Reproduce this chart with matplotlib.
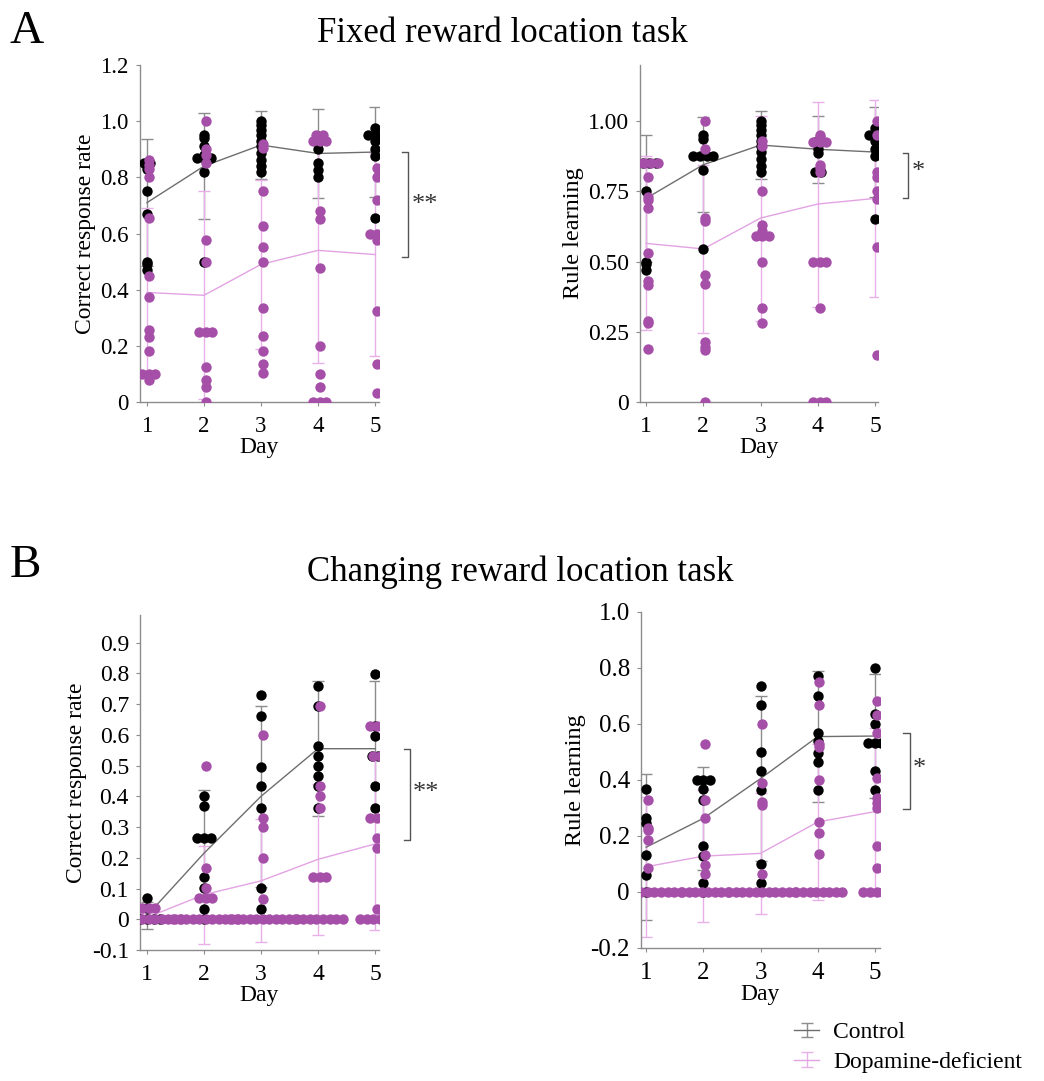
import matplotlib
matplotlib.use('Agg')
import matplotlib.pyplot as plt
from matplotlib.legend_handler import HandlerErrorbar
from collections import Counter

plt.rcParams['font.family'] = ['Liberation Serif', 'DejaVu Serif']

days = [1, 2, 3, 4, 5]
xtick_labels = ['1', '2', '3', '4', '5']

# ---------------- Panel A left: Fixed task, correct response rate ----------------
fa_cr_ctrl = [
    [0.85, 0.85, 0.83, 0.75, 0.67, 0.50, 0.49, 0.47],
    [0.95, 0.94, 0.91, 0.88, 0.87, 0.87, 0.87, 0.82, 0.50],
    [1.00, 0.985, 0.97, 0.95, 0.93, 0.91, 0.887, 0.863, 0.84, 0.82],
    [0.946, 0.923, 0.90, 0.85, 0.827, 0.80],
    [0.976, 0.952, 0.952, 0.952, 0.93, 0.90, 0.875, 0.655],
]
fa_cr_dd = [
    [0.86, 0.845, 0.83, 0.80, 0.655, 0.45, 0.375, 0.255, 0.23, 0.18, 0.10, 0.10, 0.10, 0.077],
    [1.00, 0.90, 0.88, 0.85, 0.577, 0.50, 0.25, 0.25, 0.25, 0.125, 0.08, 0.054, 0.0],
    [0.92, 0.905, 0.75, 0.625, 0.553, 0.50, 0.333, 0.235, 0.18, 0.137, 0.104],
    [0.952, 0.952, 0.93, 0.93, 0.93, 0.68, 0.65, 0.476, 0.20, 0.10, 0.054, 0.0, 0.0, 0.0],
    [0.833, 0.80, 0.72, 0.60, 0.60, 0.60, 0.577, 0.325, 0.135, 0.032],
]
fa_cr_ctrl_mean = [0.71, 0.84, 0.915, 0.885, 0.89]
fa_cr_ctrl_sd = [0.225, 0.19, 0.12, 0.16, 0.16]
fa_cr_dd_mean = [0.39, 0.38, 0.49, 0.54, 0.525]
fa_cr_dd_sd = [0.30, 0.37, 0.30, 0.40, 0.36]

# ---------------- Panel A right: Fixed task, rule learning ----------------
fa_rl_ctrl = [
    [0.85, 0.85, 0.85, 0.85, 0.75, 0.50, 0.49, 0.47],
    [0.952, 0.935, 0.875, 0.875, 0.875, 0.875, 0.827, 0.544],
    [1.00, 0.985, 0.97, 0.95, 0.93, 0.91, 0.89, 0.865, 0.84, 0.82],
    [0.925, 0.925, 0.90, 0.887, 0.82, 0.82],
    [0.976, 0.952, 0.952, 0.952, 0.93, 0.90, 0.875, 0.651],
]
fa_rl_dd = [
    [0.85, 0.85, 0.85, 0.85, 0.80, 0.73, 0.72, 0.69, 0.53, 0.43, 0.415, 0.29, 0.28, 0.19],
    [1.00, 0.90, 0.655, 0.643, 0.452, 0.42, 0.214, 0.196, 0.185, 0.0],
    [0.929, 0.91, 0.75, 0.63, 0.61, 0.59, 0.59, 0.59, 0.50, 0.333, 0.28],
    [0.952, 0.944, 0.925, 0.925, 0.925, 0.845, 0.833, 0.818, 0.50, 0.50, 0.50, 0.333, 0.0, 0.0, 0.0],
    [1.00, 0.952, 0.82, 0.80, 0.75, 0.722, 0.553, 0.167],
]
fa_rl_ctrl_mean = [0.725, 0.845, 0.915, 0.90, 0.89]
fa_rl_ctrl_sd = [0.225, 0.17, 0.12, 0.12, 0.16]
fa_rl_dd_mean = [0.565, 0.545, 0.655, 0.705, 0.725]
fa_rl_dd_sd = [0.31, 0.30, 0.365, 0.365, 0.35]

# ---------------- Panel B left: Changing task, correct response rate ----------------
cb_cr_ctrl = [
    [0.07, 0.038, 0.0, 0.0, 0.0, 0.0, 0.0],
    [0.40, 0.367, 0.266, 0.266, 0.266, 0.136, 0.103, 0.035, 0.0],
    [0.73, 0.66, 0.496, 0.432, 0.363, 0.103, 0.035],
    [0.76, 0.694, 0.564, 0.531, 0.50, 0.466, 0.432, 0.363],
    [0.797, 0.63, 0.597, 0.531, 0.531, 0.432, 0.363],
]
cb_cr_dd = [
    [0.038, 0.038, 0.038] + [0.0] * 11,
    [0.50, 0.168, 0.103, 0.07, 0.07, 0.07] + [0.0] * 11,
    [0.60, 0.33, 0.30, 0.20, 0.067] + [0.0] * 11,
    [0.694, 0.434, 0.40, 0.363, 0.136, 0.136, 0.136] + [0.0] * 8,
    [0.63, 0.63, 0.63, 0.531, 0.531, 0.33, 0.33, 0.33, 0.266, 0.233, 0.035] + [0.0] * 6,
]
cb_cr_ctrl_mean = [0.012, 0.215, 0.40, 0.555, 0.555]
cb_cr_ctrl_sd = [0.045, 0.205, 0.295, 0.22, 0.22]
cb_cr_dd_mean = [0.006, 0.08, 0.125, 0.195, 0.245]
cb_cr_dd_sd = [0.015, 0.16, 0.20, 0.245, 0.28]

# ---------------- Panel B right: Changing task, rule learning ----------------
cb_rl_ctrl = [
    [0.368, 0.263, 0.245, 0.132, 0.06, 0.0],
    [0.40, 0.40, 0.40, 0.368, 0.33, 0.164, 0.128, 0.032, 0.0],
    [0.734, 0.667, 0.50, 0.431, 0.365, 0.10, 0.032],
    [0.77, 0.70, 0.569, 0.539, 0.497, 0.463, 0.365],
    [0.80, 0.635, 0.60, 0.533, 0.533, 0.533, 0.431, 0.365],
]
cb_rl_dd = [
    [0.33, 0.23, 0.22, 0.185, 0.084] + [0.0] * 11,
    [0.527, 0.33, 0.263, 0.132, 0.096, 0.063] + [0.0] * 8,
    [0.60, 0.39, 0.323, 0.31, 0.063] + [0.0] * 11,
    [0.75, 0.667, 0.527, 0.518, 0.40, 0.251, 0.21, 0.134] + [0.0] * 8,
    [0.683, 0.631, 0.569, 0.407, 0.335, 0.317, 0.30, 0.164, 0.084] + [0.0] * 5,
]
cb_rl_ctrl_mean = [0.16, 0.263, 0.405, 0.555, 0.557]
cb_rl_ctrl_sd = [0.26, 0.185, 0.295, 0.233, 0.22]
cb_rl_dd_mean = [0.09, 0.128, 0.138, 0.25, 0.287]
cb_rl_dd_sd = [0.25, 0.235, 0.215, 0.28, 0.30]

CTRL_DOT = '#000000'
DD_DOT = '#A64FA8'
CTRL_LINE = '#6E6E6E'
CTRL_ERR = '#8C8C8C'
DD_LINE = '#E3A3E3'
DD_ERR = '#E8B0E8'
SPINE = '#8C8C8C'

W, H = 1044, 1081
fig = plt.figure(figsize=(W / 100, H / 100), dpi=100)


def px_axes(left, top, right, bottom):
    return fig.add_axes([left / W, 1 - bottom / H, (right - left) / W, (bottom - top) / H])


def spread(vals, day, w):
    counts = Counter(round(v, 3) for v in vals)
    seen = {}
    xs = []
    for v in vals:
        k = round(v, 3)
        n = counts[k]
        i = seen.get(k, 0)
        seen[k] = i + 1
        xs.append(day + (i - (n - 1) / 2) * w)
    return xs


def panel(ax, ctrl, dd, cm, csd, dm, dsd, ylim, yticks, ylabels, xlim, ylabel,
          tick_fs, label_fs, bracket, stars):
    e1 = ax.errorbar(days, cm, yerr=csd, color=CTRL_LINE, ecolor=CTRL_ERR, lw=1.0,
                     elinewidth=1.0, capsize=4, capthick=1.0, zorder=1, label='Control')
    e2 = ax.errorbar(days, dm, yerr=dsd, color=DD_LINE, ecolor=DD_ERR, lw=1.0,
                     elinewidth=1.0, capsize=4, capthick=1.0, zorder=1,
                     label='Dopamine-deficient')
    for d, vals in zip(days, ctrl):
        ax.scatter(spread(vals, d, 0.115), vals, s=56, color=CTRL_DOT, lw=0, zorder=3)
    for d, vals in zip(days, dd):
        ax.scatter(spread(vals, d + 0.03, 0.115), vals, s=56, color=DD_DOT, lw=0, zorder=4)
    ax.set_xlim(*xlim)
    ax.set_ylim(*ylim)
    ax.set_xticks(days)
    ax.set_xticklabels(xtick_labels, fontsize=tick_fs)
    ax.set_yticks(yticks)
    ax.set_yticklabels(ylabels, fontsize=tick_fs)
    ax.set_xlabel('Day', fontsize=17, labelpad=0)
    ax.set_ylabel(ylabel, fontsize=label_fs, labelpad=3)
    for s in ('top', 'right'):
        ax.spines[s].set_visible(False)
    for s in ('left', 'bottom'):
        ax.spines[s].set_color(SPINE)
        ax.spines[s].set_linewidth(1.0)
    ax.tick_params(direction='out', length=3, width=0.8, color=SPINE, pad=5)
    ax.tick_params(axis='x', pad=7)
    x0, x1, ytop, ybot, ytext = bracket
    ax.plot([x0, x1, x1, x0], [ytop, ytop, ybot, ybot], color='#555555', lw=1.0,
            clip_on=False)
    ax.text(x1 + 0.06, ytext, stars, fontsize=19, va='center', ha='left', color='#333333',
            clip_on=False)
    return e1, e2


axA1 = px_axes(140, 65, 379, 402)
h1, h2 = panel(axA1, fa_cr_ctrl, fa_cr_dd, fa_cr_ctrl_mean, fa_cr_ctrl_sd,
               fa_cr_dd_mean, fa_cr_dd_sd, (0, 1.2),
               [0, 0.2, 0.4, 0.6, 0.8, 1.0, 1.2],
               ['0', '0.2', '0.4', '0.6', '0.8', '1.0', '1.2'],
               (0.877, 5.07), 'Correct response rate', 16.5, 17,
               (5.47, 5.58, 0.89, 0.515, 0.70), '**')

axA2 = px_axes(640, 65, 878, 402)
panel(axA2, fa_rl_ctrl, fa_rl_dd, fa_rl_ctrl_mean, fa_rl_ctrl_sd,
      fa_rl_dd_mean, fa_rl_dd_sd, (0, 1.2),
      [0, 0.25, 0.5, 0.75, 1.0],
      ['0', '0.25', '0.50', '0.75', '1.00'],
      (0.895, 5.05), 'Rule learning', 17, 17.5,
      (5.48, 5.57, 0.885, 0.725, 0.82), '*')

axB1 = px_axes(140, 615, 379, 950)
panel(axB1, cb_cr_ctrl, cb_cr_dd, cb_cr_ctrl_mean, cb_cr_ctrl_sd,
      cb_cr_dd_mean, cb_cr_dd_sd, (-0.1, 0.99),
      [-0.1, 0, 0.1, 0.2, 0.3, 0.4, 0.5, 0.6, 0.7, 0.8, 0.9],
      ['-0.1', '0', '0.1', '0.2', '0.3', '0.4', '0.5', '0.6', '0.7', '0.8', '0.9'],
      (0.877, 5.07), 'Correct response rate', 17, 17,
      (5.5, 5.61, 0.555, 0.258, 0.41), '**')

axB2 = px_axes(641, 612, 880, 948)
panel(axB2, cb_rl_ctrl, cb_rl_dd, cb_rl_ctrl_mean, cb_rl_ctrl_sd,
      cb_rl_dd_mean, cb_rl_dd_sd, (-0.2, 1.0),
      [-0.2, 0, 0.2, 0.4, 0.6, 0.8, 1.0],
      ['-0.2', '0', '0.2', '0.4', '0.6', '0.8', '1.0'],
      (0.91, 5.09), 'Rule learning', 18, 17.5,
      (5.5, 5.61, 0.569, 0.297, 0.44), '*')

fig.text(10 / W, 1 - 32 / H, 'A', fontsize=34, va='center', ha='left')
fig.text(502 / W, 1 - 34 / H, 'Fixed reward location task', fontsize=25, va='center', ha='center')
fig.text(10 / W, 1 - 566 / H, 'B', fontsize=34, va='center', ha='left')
fig.text(520 / W, 1 - 572 / H, 'Changing reward location task', fontsize=25, va='center',
         ha='center')

fig.legend([h1, h2], ['Control', 'Dopamine-deficient'], loc='upper left',
           bbox_to_anchor=(785 / W, 1 - 1012 / H), frameon=False, fontsize=17,
           handlelength=1.05, handletextpad=0.6, labelspacing=0.35, borderaxespad=0,
           handler_map={type(h1): HandlerErrorbar(yerr_size=0.3)})

fig.savefig('out.png', dpi=100)
